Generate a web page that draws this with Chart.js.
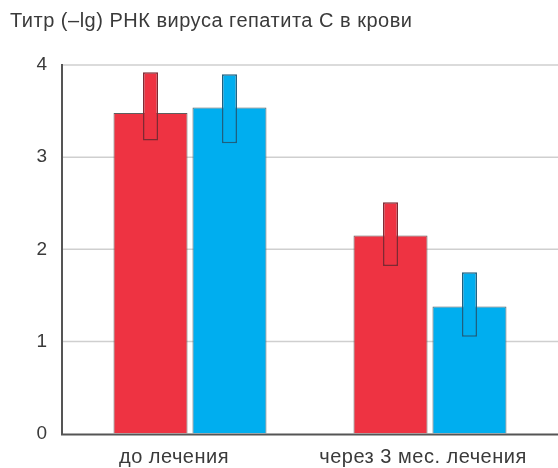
<!DOCTYPE html>
<html>
<head>
<meta charset="utf-8">
<script src="https://cdn.jsdelivr.net/npm/chart.js@4"></script>
<style>
  body { margin: 0; background: #fff; }
  #wrap { width: 558px; height: 468px; position: relative; }
</style>
</head>
<body>
<div id="wrap"><canvas id="chart"></canvas></div>
<script>
// Chart data
const titleText = 'Титр (–lg) РНК вируса гепатита С в крови';
const categories = ['до лечения', 'через 3 мес. лечения'];
const redValues = [3.48, 2.15];
const blueValues = [3.54, 1.38];
const redLow = [3.18, 1.82];
const redHigh = [3.92, 2.51];
const blueLow = [3.15, 1.05];
const blueHigh = [3.90, 1.75];
const yTicks = [0, 1, 2, 3, 4];

// Styles
const RED = '#ee3342';
const BLUE = '#00aeef';
const FONT = '"Liberation Sans", Arial, sans-serif';
const labelShift = [-16, -7];
const axisLeft = 62;

/**
 * Draws grid lines, axis lines, title and category labels
 */
const decorPlugin = {
    id: 'decor',
    beforeDatasetsDraw(chart) {
        const ctx = chart.ctx;
        const y = chart.scales.y;
        ctx.save();
        ctx.strokeStyle = '#cfcfcf';
        ctx.lineWidth = 1.5;
        yTicks.forEach(t => {
            if (t === 0) return;
            const py = y.getPixelForValue(t);
            ctx.beginPath();
            ctx.moveTo(axisLeft, py);
            ctx.lineTo(chart.width, py);
            ctx.stroke();
        });
        ctx.restore();
    },
    afterDatasetsDraw(chart) {
        const ctx = chart.ctx;
        const x = chart.scales.x;
        const y = chart.scales.y;
        const top = y.getPixelForValue(4);
        const bottom = y.getPixelForValue(0);
        ctx.save();
        // Axis lines
        ctx.strokeStyle = '#555555';
        ctx.lineWidth = 2;
        ctx.beginPath();
        ctx.moveTo(axisLeft, top - 1);
        ctx.lineTo(axisLeft, bottom + 1);
        ctx.lineTo(chart.width, bottom + 1);
        ctx.stroke();

        // Title
        ctx.fillStyle = '#3a3a3a';
        ctx.font = '20px ' + FONT;
        ctx.letterSpacing = '0.5px';
        ctx.textAlign = 'left';
        ctx.textBaseline = 'alphabetic';
        ctx.fillText(titleText, 10, 27);

        // Category labels
        ctx.textAlign = 'center';
        categories.forEach((c, i) => {
            ctx.fillText(c, x.getPixelForValue(i) + labelShift[i], 463);
        });
        ctx.restore();
    }
};

new Chart(document.getElementById('chart'), {
    type: 'bar',
    data: {
        labels: categories,
        datasets: [
            {
                label: 'red range',
                data: redLow.map((v, i) => [v, redHigh[i]]),
                backgroundColor: RED,
                borderColor: '#7d2a33',
                borderWidth: 1.5,
                borderSkipped: false,
                stack: 'red',
                barPercentage: 0.19,
                categoryPercentage: 0.658
            },
            {
                label: 'blue range',
                data: blueLow.map((v, i) => [v, blueHigh[i]]),
                backgroundColor: BLUE,
                borderColor: '#1f5f7e',
                borderWidth: 1.5,
                borderSkipped: false,
                stack: 'blue',
                barPercentage: 0.19,
                categoryPercentage: 0.658
            },
            {
                label: 'red',
                data: redValues,
                backgroundColor: RED,
                borderColor: '#5e5e5e',
                borderWidth: 1,
                borderSkipped: 'bottom',
                stack: 'red',
                barPercentage: 0.937,
                categoryPercentage: 0.658
            },
            {
                label: 'blue',
                data: blueValues,
                backgroundColor: BLUE,
                borderColor: '#5e5e5e',
                borderWidth: 1,
                borderSkipped: 'bottom',
                stack: 'blue',
                barPercentage: 0.937,
                categoryPercentage: 0.658
            }
        ]
    },
    options: {
        responsive: true,
        maintainAspectRatio: false,
        animation: false,
        layout: {
            padding: { top: 65, right: 8, left: 0, bottom: 0 }
        },
        plugins: {
            legend: { display: false },
            tooltip: { enabled: false }
        },
        scales: {
            x: {
                grid: { display: false },
                border: { display: false },
                ticks: { display: false },
                afterFit(scale) { scale.height = 32; }
            },
            y: {
                stacked: false,
                min: 0,
                max: 4,
                afterBuildTicks(scale) { scale.ticks = yTicks.map(v => ({ value: v })); },
                afterFit(scale) { scale.width = 70; },
                grid: { display: false, drawTicks: false },
                border: { display: false },
                ticks: {
                    padding: 23,
                    color: '#3a3a3a',
                    font: { family: FONT, size: 19 }
                }
            }
        }
    },
    plugins: [decorPlugin]
});
</script>
</body>
</html>
